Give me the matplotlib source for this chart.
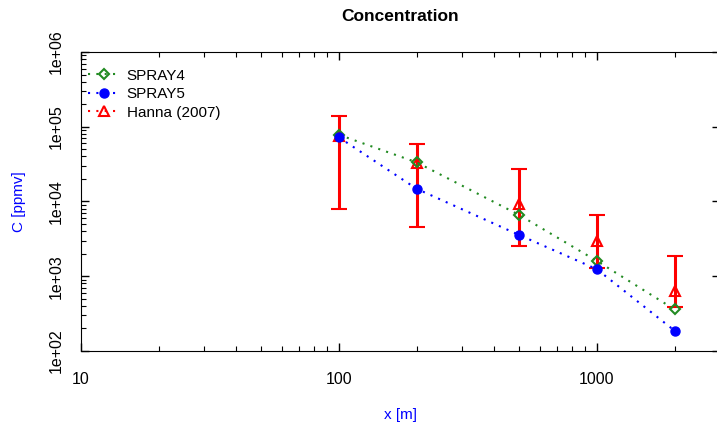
import numpy as np
import matplotlib.pyplot as plt
from matplotlib.lines import Line2D
from matplotlib.ticker import LogLocator, NullFormatter, FixedLocator, FixedFormatter

plt.rcParams['font.family'] = ['Liberation Sans', 'DejaVu Sans']

x = [100, 200, 500, 1000, 2000]
spray4 = [78000, 33400, 6600, 1600, 360]
spray5 = [72000, 14800, 3560, 1240, 187]
hanna = [76000, 33000, 9300, 3000, 640]
hanna_lo = [8000, 4500, 2560, 1280, 386]
hanna_hi = [140000, 58800, 27500, 6700, 1850]

green = '#228B22'
dots = (0, (1, 3))

fig = plt.figure(figsize=(7.17, 4.28), dpi=100)
ax = fig.add_axes([81 / 717, 1 - 351 / 428, 639 / 717, 299 / 428])

err = [np.array(hanna) - np.array(hanna_lo), np.array(hanna_hi) - np.array(hanna)]
ax.errorbar(x, hanna, yerr=err, fmt='^', color='red', mfc='none', mec='red',
            ms=6.5, mew=1.5, elinewidth=2.2, capsize=6, capthick=2.2, zorder=2)
ax.plot(x, spray4, ls=dots, color=green, marker='D', mfc='none', mec=green,
        ms=5, mew=1.5, lw=1.5, zorder=3)
ax.plot(x, spray5, ls=dots, color='blue', marker='o', ms=6.5, lw=1.5, zorder=4)

ax.set_xscale('log')
ax.set_yscale('log')
ax.set_xlim(10, 3000)
ax.set_ylim(100, 1e6)

ax.xaxis.set_major_locator(FixedLocator([10, 100, 1000]))
ax.xaxis.set_major_formatter(FixedFormatter(['10', '100', '1000']))
ax.xaxis.set_minor_locator(LogLocator(base=10, subs=np.arange(2, 10)))
ax.xaxis.set_minor_formatter(NullFormatter())
ylabels = ['1e+02', '1e+03', '1e+04', '1e+05', '1e+06']
ax.yaxis.set_major_locator(FixedLocator([1e2, 1e3, 1e4, 1e5, 1e6]))
ax.yaxis.set_major_formatter(FixedFormatter(ylabels))
ax.yaxis.set_minor_locator(LogLocator(base=10, subs=np.arange(2, 10)))
ax.yaxis.set_minor_formatter(NullFormatter())

ax.tick_params(which='both', direction='in', top=True, right=True, labelsize=11.5)
ax.tick_params(which='minor', right=False)
ax.tick_params(which='major', length=6, width=1)
ax.tick_params(which='minor', length=3.5, width=0.8)
ax.tick_params(axis='x', pad=15)
ax.tick_params(axis='y', pad=12.5)
for lab in ax.get_yticklabels():
    lab.set_rotation(90)
    lab.set_va('center')
ax.spines['right'].set_visible(False)

ax.set_title('Concentration', fontsize=12.5, fontweight='bold', pad=22)
ax.set_xlabel('x [m]', color='blue', fontsize=11, labelpad=15)
ax.set_ylabel('C [ppmv]', color='blue', fontsize=11, labelpad=16)

handles = [
    Line2D([], [], ls=dots, color=green, marker='D', mfc='none', mec=green, ms=5, mew=1.5, lw=1.5),
    Line2D([], [], ls=dots, color='blue', marker='o', ms=6.5, lw=1.5),
    Line2D([], [], ls=dots, color='red', marker='^', mfc='none', mec='red', ms=6.5, mew=1.5, lw=1.5),
]
ax.legend(handles, ['SPRAY4', 'SPRAY5', 'Hanna (2007)'], loc='upper left',
          frameon=False, fontsize=11, handlelength=2.0, handletextpad=0.5,
          labelspacing=0.3, borderaxespad=0.3, bbox_to_anchor=(-0.005, 0.98))

fig.savefig('out.png', dpi=100)
